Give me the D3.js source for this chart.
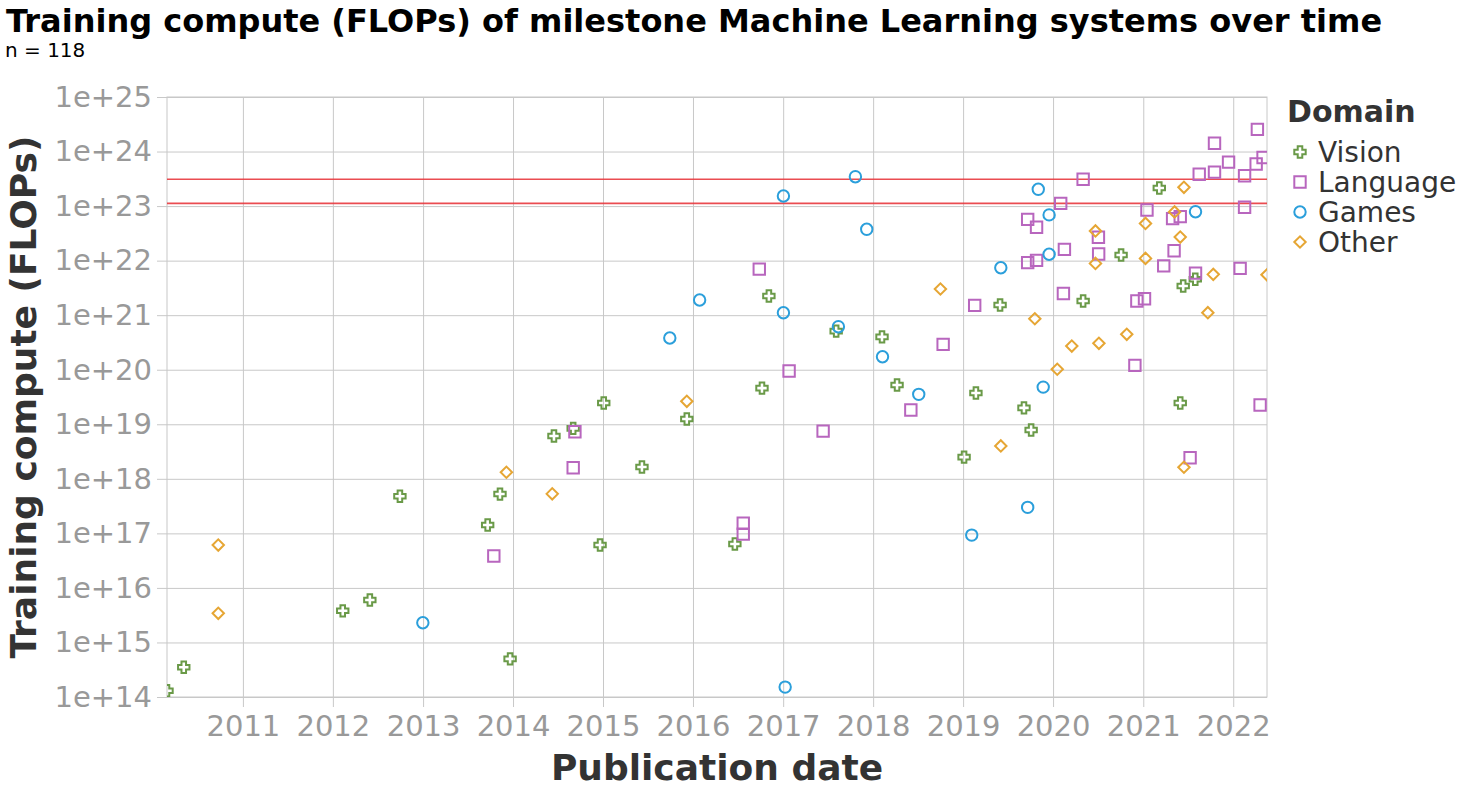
<!DOCTYPE html>
<html>
<head>
<meta charset="utf-8">
<script src="https://cdn.jsdelivr.net/npm/d3@7"></script>
<style>
  body { margin: 0; background: #fff; }
  svg { font-family: "DejaVu Sans", sans-serif; }
</style>
</head>
<body>
<svg id="chart" width="1463" height="791"></svg>
<script>
// ---- data ----
const domains = ["Vision", "Language", "Games", "Other"];
const domainColors = ["#6a9a48", "#b866be", "#2b9fdb", "#e6a634"];

const visionDates = ["2010-02-27","2010-05-06","2012-02-10","2012-05-30","2012-09-29","2013-09-20","2013-11-09","2013-12-20","2014-06-16","2014-09-02","2015-01-04","2014-12-20","2015-06-08","2015-12-07","2016-06-19","2016-10-07","2016-11-04","2017-08-04","2018-02-06","2018-04-08","2019-01-05","2019-02-22","2019-05-31","2019-09-05","2019-10-04","2020-05-02","2020-10-03","2021-03-07","2021-05-31","2021-06-12","2021-07-31"];
const visionFlops = [1.3e14,3.5e14,3.8e15,6e15,4.8e17,1.42e17,5.25e17,5e14,6.1e18,8.4e18,2.45e19,6.1e16,1.65e18,1.25e19,6.4e16,4.6e19,2.25e21,5.1e20,4e20,5.25e19,2.5e18,3.75e19,1.54e21,2e19,7.85e18,1.82e21,1.27e22,2.15e23,2.45e19,3.43e21,4.55e21];

const languageDates = ["2013-10-15","2014-09-09","2014-09-02","2016-07-23","2016-07-23","2016-09-26","2017-01-25","2017-06-12","2018-06-03","2018-10-12","2019-02-17","2019-09-20","2019-10-26","2019-09-20","2019-10-26","2020-02-01","2020-02-16","2020-02-12","2020-05-02","2020-07-03","2020-07-04","2020-12-06","2021-01-06","2020-11-28","2021-01-16","2021-03-25","2021-04-30","2021-05-31","2021-05-06","2021-08-01","2021-07-10","2021-08-16","2021-10-17","2021-10-17","2021-12-13","2022-02-16","2022-02-16","2022-01-29","2022-04-04","2022-04-09","2022-05-02","2022-04-20"];
const languageFlops = [3.85e16,7.3e18,1.6e18,1.53e17,9.7e16,7e21,9.5e19,7.5e18,1.83e19,2.92e20,1.51e21,5.7e22,4.1e22,9.2e21,1.01e22,1.12e23,1.61e22,2.5e21,3.1e23,2.68e22,1.32e22,1.82e21,2e21,1.2e20,8.5e22,8e21,5.9e22,6.4e22,1.52e22,5.9e21,2.44e18,3.83e23,4.2e23,1.42e24,6.4e23,3.6e23,9.5e22,7.2e21,5.9e23,2.55e24,7.8e23,2.25e19];

const gamesDates = ["2012-12-31","2015-09-29","2016-01-28","2017-01-02","2017-01-02","2017-01-09","2017-08-13","2017-10-21","2017-12-06","2018-02-08","2018-07-05","2019-02-05","2019-09-20","2019-06-03","2019-11-02","2019-12-16","2019-12-16","2019-11-22","2021-08-01"];
const gamesFlops = [2.3e15,3.82e20,1.9e21,1.53e23,1.11e21,1.52e14,6.15e20,3.46e23,3.75e22,1.73e20,3.54e19,9.3e16,3e17,7.4e21,2.03e23,6.9e22,1.31e22,4.8e19,7.9e22];

const otherDates = ["2010-09-23","2010-09-23","2013-12-05","2014-06-09","2015-12-07","2018-10-01","2019-06-03","2019-10-19","2020-01-18","2020-03-17","2020-06-21","2020-06-21","2020-07-05","2020-10-26","2021-01-10","2021-01-10","2021-05-08","2021-05-31","2021-06-15","2021-06-15","2021-09-20","2021-10-12","2022-05-18"];
const otherFlops = [6.1e16,3.42e15,1.32e18,5.3e17,2.64e19,3.02e21,4e18,8.6e20,1.02e20,2.72e20,8.9e21,3.5e22,3.05e20,4.46e20,1.1e22,4.8e22,7.8e22,2.71e22,2.21e23,1.63e18,1.11e21,5.6e21,5.5e21];

// horizontal reference lines
const refLines = [3.1e23, 1.12e23];

// tick labels
const xTickYears = ["2011","2012","2013","2014","2015","2016","2017","2018","2019","2020","2021","2022"];
const yTicks = [1e14,1e15,1e16,1e17,1e18,1e19,1e20,1e21,1e22,1e23,1e24,1e25];

const titleText = "Training compute (FLOPs) of milestone Machine Learning systems over time";
const subtitleText = "n = 118";

// ---- symbol shapes (vega style: every shape is sqrt(size) wide) ----
const crossSym = { draw(ctx, size) {
  const r = Math.sqrt(size) / 2, s = r / 2.5;
  ctx.moveTo(-r, -s); ctx.lineTo(-r, s); ctx.lineTo(-s, s); ctx.lineTo(-s, r);
  ctx.lineTo(s, r); ctx.lineTo(s, s); ctx.lineTo(r, s); ctx.lineTo(r, -s);
  ctx.lineTo(s, -s); ctx.lineTo(s, -r); ctx.lineTo(-s, -r); ctx.lineTo(-s, -s);
  ctx.closePath();
}};
const squareSym = { draw(ctx, size) {
  const w = Math.sqrt(size);
  ctx.rect(-w / 2, -w / 2, w, w);
}};
const circleSym = { draw(ctx, size) {
  const r = Math.sqrt(size) / 2;
  ctx.moveTo(r, 0); ctx.arc(0, 0, r, 0, 2 * Math.PI);
}};
const diamondSym = { draw(ctx, size) {
  const r = Math.sqrt(size) / 2;
  ctx.moveTo(-r, 0); ctx.lineTo(0, -r); ctx.lineTo(r, 0); ctx.lineTo(0, r);
  ctx.closePath();
}};
const shapes = [crossSym, squareSym, circleSym, diamondSym];
const SYM_SIZE = 130;

// ---- build points ----
const parse = d3.utcParse("%Y-%m-%d");
const seriesDates = [visionDates, languageDates, gamesDates, otherDates];
const seriesFlops = [visionFlops, languageFlops, gamesFlops, otherFlops];
const points = [];
domains.forEach((dom, i) => {
  seriesDates[i].forEach((d, j) => {
    points.push({ domain: dom, date: parse(d), flops: seriesFlops[i][j] });
  });
});

const color = d3.scaleOrdinal().domain(domains).range(domainColors);
const shape = d3.scaleOrdinal().domain(domains).range(shapes);

// ---- layout ----
const plot = { left: 167, top: 97, width: 1100, height: 600 };
const x = d3.scaleUtc()
  .domain(d3.extent(points, d => d.date))
  .range([plot.left, plot.left + plot.width]);
const y = d3.scaleLog()
  .domain([1e14, 1e25])
  .range([plot.top + plot.height, plot.top]);

const svg = d3.select("#chart");
const GRID = "#c8c8c8";

// grid
svg.append("g")
  .attr("transform", `translate(0,${plot.top + plot.height})`)
  .call(d3.axisBottom(x).tickValues(xTickYears.map(s => parse(s + "-01-01")))
    .tickFormat("").tickSizeInner(-plot.height))
  .call(g => g.select(".domain").remove())
  .call(g => g.selectAll("line").attr("stroke", GRID));
svg.append("g")
  .attr("transform", `translate(${plot.left},0)`)
  .call(d3.axisLeft(y).tickValues(yTicks).tickFormat("").tickSizeInner(-plot.width))
  .call(g => g.select(".domain").remove())
  .call(g => g.selectAll("line").attr("stroke", GRID));

// view border
svg.append("rect")
  .attr("x", plot.left).attr("y", plot.top)
  .attr("width", plot.width).attr("height", plot.height)
  .attr("fill", "none").attr("stroke", GRID);

// axes with labels
const xAxis = svg.append("g")
  .attr("transform", `translate(0,${plot.top + plot.height})`)
  .call(d3.axisBottom(x).tickValues(xTickYears.map(s => parse(s + "-01-01")))
    .tickSize(10).tickPadding(8).tickFormat(d3.utcFormat("%Y")));
const yAxis = svg.append("g")
  .attr("transform", `translate(${plot.left},0)`)
  .call(d3.axisLeft(y).tickValues(yTicks).tickSize(10).tickPadding(5)
    .tickFormat(d => "1e+" + Math.round(Math.log10(d))));
[xAxis, yAxis].forEach(g => {
  g.select(".domain").remove();
  g.selectAll("line").attr("stroke", GRID);
  g.selectAll("text").attr("fill", "#999").attr("font-size", 29)
    .attr("font-family", "DejaVu Sans");
});

// reference lines
svg.append("g").selectAll("line")
  .data(refLines).join("line")
  .attr("x1", plot.left).attr("x2", plot.left + plot.width)
  .attr("y1", d => y(d)).attr("y2", d => y(d))
  .attr("stroke", "#e8393e").attr("stroke-width", 1.6).attr("stroke-opacity", 0.9);

// clip + points
svg.append("clipPath").attr("id", "plotclip")
  .append("rect").attr("x", plot.left).attr("y", plot.top)
  .attr("width", plot.width).attr("height", plot.height);

svg.append("g").attr("clip-path", "url(#plotclip)")
  .selectAll("path")
  .data(points).join("path")
  .attr("transform", d => `translate(${x(d.date)},${y(d.flops)})`)
  .attr("d", d => d3.symbol().type(shape(d.domain)).size(SYM_SIZE)())
  .attr("fill", "none")
  .attr("stroke", d => color(d.domain))
  .attr("stroke-width", 2);

// titles
svg.append("text").attr("x", 6).attr("y", 32)
  .attr("font-size", 32).attr("font-weight", "bold").attr("fill", "#000")
  .text(titleText);
svg.append("text").attr("x", 5).attr("y", 57)
  .attr("font-size", 20).attr("fill", "#000")
  .text(subtitleText);

svg.append("text")
  .attr("x", plot.left + plot.width / 2).attr("y", 780)
  .attr("text-anchor", "middle").attr("font-size", 36).attr("font-weight", "bold")
  .attr("fill", "#333").text("Publication date");
svg.append("text")
  .attr("transform", `translate(36,${plot.top + plot.height / 2}) rotate(-90)`)
  .attr("text-anchor", "middle").attr("font-size", 36).attr("font-weight", "bold")
  .attr("fill", "#333").text("Training compute (FLOPs)");

// legend
const legend = svg.append("g").attr("transform", "translate(1287,0)");
legend.append("text").attr("x", 0).attr("y", 122)
  .attr("font-size", 30).attr("font-weight", "bold").attr("fill", "#333")
  .text("Domain");
const item = legend.selectAll(".item")
  .data(domains).join("g")
  .attr("class", "item")
  .attr("transform", (d, i) => `translate(0,${152 + i * 30})`);
item.append("path")
  .attr("transform", "translate(13,0)")
  .attr("d", d => d3.symbol().type(shape(d)).size(SYM_SIZE)())
  .attr("fill", "none").attr("stroke", d => color(d)).attr("stroke-width", 2);
item.append("text").attr("x", 31).attr("y", 10)
  .attr("font-size", 28).attr("fill", "#333").text(d => d);
</script>
</body>
</html>
